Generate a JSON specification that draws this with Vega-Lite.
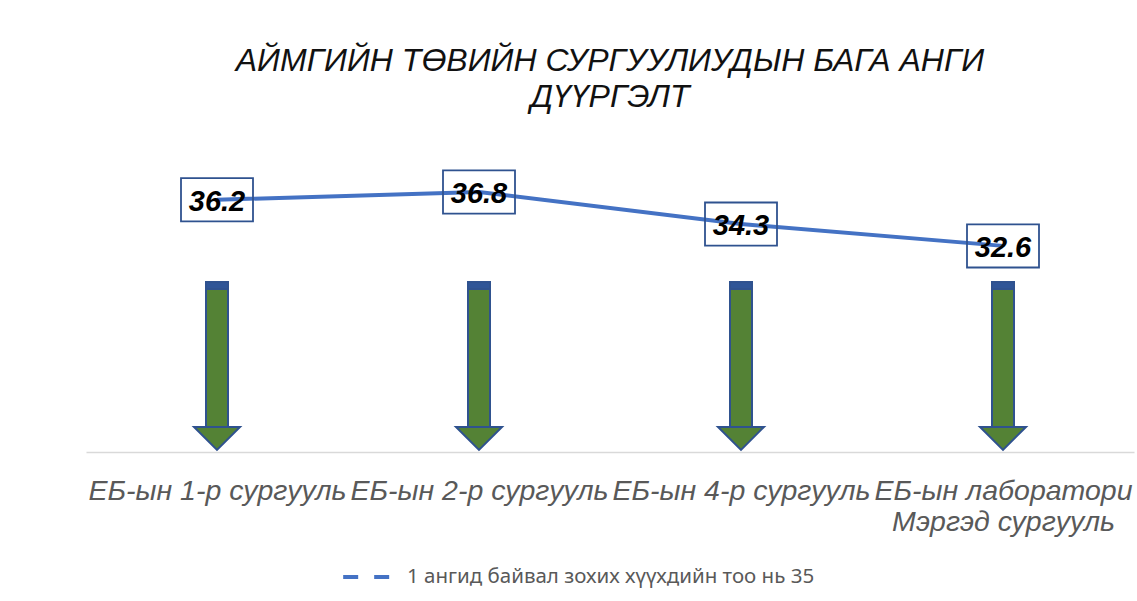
{
  "$schema": "https://vega.github.io/schema/vega-lite/v6.json",
  "autosize": "none",
  "width": 1048,
  "height": 322,
  "padding": {"left": 86, "top": 130, "right": 3, "bottom": 149},
  "background": "white",
  "config": {"view": {"stroke": null}},
  "title": {
    "text": ["АЙМГИЙН ТӨВИЙН СУРГУУЛИУДЫН БАГА АНГИ", "ДҮҮРГЭЛТ"],
    "font": "Liberation Sans",
    "fontSize": 32,
    "fontStyle": "italic",
    "fontWeight": "normal",
    "color": "#111111",
    "lineHeight": 36,
    "anchor": "middle",
    "offset": 16
  },
  "data": {
    "values": [
      {"school": "ЕБ-ын 1-р сургууль", "value": 36.2},
      {"school": "ЕБ-ын 2-р сургууль", "value": 36.8},
      {"school": "ЕБ-ын 4-р сургууль", "value": 34.3},
      {"school": "ЕБ-ын лаборатори Мэргэд сургууль", "value": 32.6}
    ]
  },
  "encoding": {
    "x": {
      "field": "school",
      "type": "nominal",
      "sort": null,
      "scale": {"type": "point", "padding": 0.5},
      "axis": {
        "title": null,
        "labelAngle": 0,
        "labelLimit": 0,
        "labelOverlap": false,
        "ticks": false,
        "domainColor": "#D9D9D9",
        "domainWidth": 1.5,
        "labelFont": "Liberation Sans",
        "labelFontSize": 28.5,
        "labelFontStyle": "italic",
        "labelColor": "#595959",
        "labelPadding": 24,
        "labelBaseline": "top",
        "labelLineHeight": 31,
        "labelExpr": "datum.label == 'ЕБ-ын лаборатори Мэргэд сургууль' ? ['ЕБ-ын лаборатори', 'Мэргэд сургууль'] : datum.label"
      }
    }
  },
  "layer": [
    {
      "mark": {"type": "bar", "width": 22, "fill": "#548235", "stroke": "#2F528F", "strokeWidth": 2},
      "encoding": {
        "y": {"datum": 29.78, "type": "quantitative", "scale": {"domain": [16.52, 41.64]}, "axis": null},
        "y2": {"datum": 18.47}
      }
    },
    {
      "mark": {"type": "bar", "width": 22, "fill": "#2F5597", "stroke": "#2F528F", "strokeWidth": 2},
      "encoding": {
        "y": {"datum": 29.78, "type": "quantitative", "scale": {"domain": [16.52, 41.64]}, "axis": null},
        "y2": {"datum": 29.24}
      }
    },
    {
      "mark": {"type": "point", "filled": true, "shape": "M-1,-0.5L1,-0.5L0,0.5Z", "size": 2116, "fill": "#548235", "stroke": "#2F528F", "strokeWidth": 2, "opacity": 1},
      "encoding": {
        "y": {"datum": 17.58, "type": "quantitative", "scale": {"domain": [16.52, 41.64]}, "axis": null}
      }
    },
    {
      "mark": {"type": "line", "strokeWidth": 4},
      "encoding": {
        "y": {"field": "value", "type": "quantitative", "scale": {"domain": [16.52, 41.64]}, "axis": null},
        "color": {
          "datum": "1 ангид байвал зохих хүүхдийн тоо нь 35",
          "scale": {"range": ["#4472C4"]},
          "legend": {
            "title": null,
            "orient": "none",
            "legendX": 255,
            "legendY": 414,
            "symbolType": "stroke",
            "symbolSize": 3800,
            "symbolStrokeWidth": 4,
            "symbolDash": [15, 16],
            "labelFont": "Noto Sans",
            "labelFontSize": 20.5,
            "labelColor": "#595959",
            "labelOffset": 0,
            "labelLimit": 0
          }
        }
      }
    },
    {
      "mark": {"type": "point", "shape": "M-1,-0.6L1,-0.6L1,0.6L-1,0.6Z", "size": 5184, "filled": false, "stroke": "#2F528F", "strokeWidth": 1.8, "opacity": 1},
      "encoding": {
        "y": {"field": "value", "type": "quantitative", "scale": {"domain": [16.52, 41.64]}, "axis": null}
      }
    },
    {
      "mark": {"type": "text", "font": "Liberation Sans", "fontSize": 29, "fontStyle": "italic", "fontWeight": "bold", "color": "#000000", "baseline": "middle", "dy": 2},
      "encoding": {
        "y": {"field": "value", "type": "quantitative", "scale": {"domain": [16.52, 41.64]}, "axis": null},
        "text": {"field": "value", "type": "quantitative", "format": ".1f"}
      }
    }
  ]
}
